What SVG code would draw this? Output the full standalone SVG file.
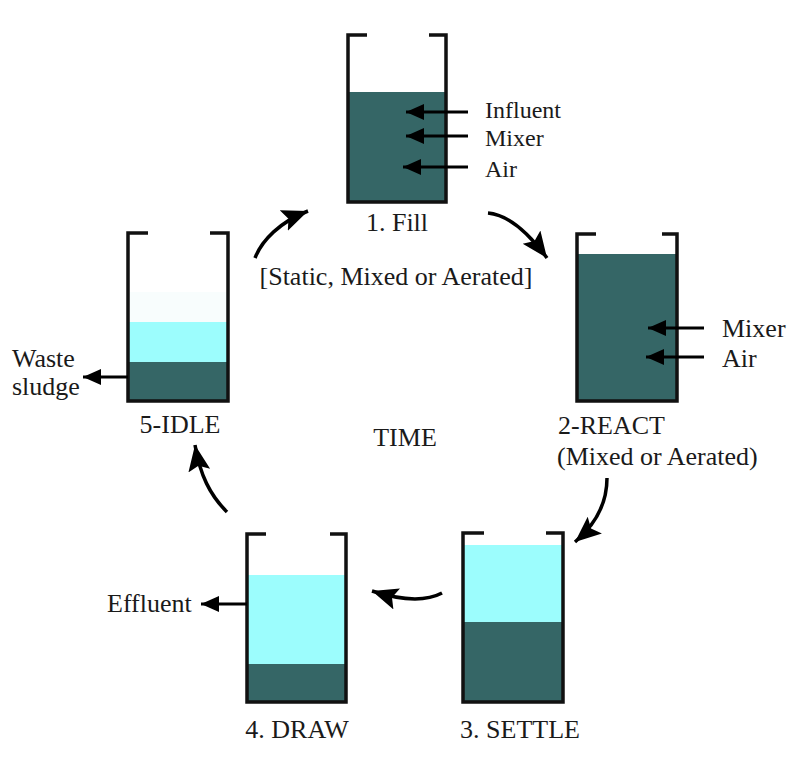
<svg xmlns="http://www.w3.org/2000/svg" width="800" height="762" viewBox="0 0 800 762">
<style>
text{font-family:"Liberation Serif","Times New Roman",serif;font-size:26px;fill:#1a1a1a}
.sm{font-size:24px}
.wall{fill:none;stroke:#111;stroke-width:3.5;stroke-linejoin:miter}
.dark{fill:#356666}
.light{fill:#9cfdfd}
.cur{fill:none;stroke:#000;stroke-width:3.5;marker-end:url(#big)}
.hor{fill:none;stroke:#000;stroke-width:3;marker-end:url(#small)}
</style>
<defs>
<marker id="big" markerUnits="userSpaceOnUse" markerWidth="28" markerHeight="24" refX="26" refY="11" orient="auto" viewBox="0 0 28 24">
<path d="M0,0 L26,11 L0,22 L5,11 z" fill="#000"/>
</marker>
<marker id="small" markerUnits="userSpaceOnUse" markerWidth="20" markerHeight="16" refX="18" refY="8" orient="auto" viewBox="0 0 20 16">
<path d="M0,0 L18,8 L0,16 z" fill="#000"/>
</marker>
</defs>

<g id="fill">
<rect class="dark" x="348" y="92" width="98" height="110"/>
<path class="wall" d="M367,35 H348 V202 H446 V35 H429"/>
<line class="hor" x1="468" y1="112" x2="406" y2="112"/>
<line class="hor" x1="468" y1="136" x2="406" y2="136"/>
<line class="hor" x1="468" y1="167" x2="403" y2="167"/>
<text class="sm" x="485" y="118">Influent</text>
<text class="sm" x="485" y="146">Mixer</text>
<text class="sm" x="485" y="177">Air</text>
<text x="397" y="231" text-anchor="middle">1. Fill</text>
<text x="396" y="285" text-anchor="middle">[Static, Mixed or Aerated]</text>
</g>

<g id="react">
<rect class="dark" x="577" y="254" width="100" height="147"/>
<path class="wall" d="M596,234 H577 V401 H677 V234 H662"/>
<line class="hor" x1="704" y1="328" x2="648" y2="328"/>
<line class="hor" x1="704" y1="357" x2="646" y2="357"/>
<text x="722" y="337">Mixer</text>
<text x="722" y="367">Air</text>
<text x="558" y="434">2-REACT</text>
<text x="557" y="465">(Mixed or Aerated)</text>
</g>

<g id="settle">
<rect class="light" x="463" y="545" width="100" height="77"/>
<rect class="dark" x="463" y="622" width="100" height="80"/>
<path class="wall" d="M484,533 H463 V702 H563 V533 H546"/>
<text x="520" y="738" text-anchor="middle">3. SETTLE</text>
</g>

<g id="draw">
<rect class="light" x="247" y="575" width="99" height="89"/>
<rect class="dark" x="247" y="664" width="99" height="38"/>
<path class="wall" d="M266,534 H247 V702 H346 V534 H330"/>
<line class="hor" x1="247" y1="604" x2="201" y2="604"/>
<text x="107" y="612">Effluent</text>
<text x="297" y="738" text-anchor="middle">4. DRAW</text>
</g>

<g id="idle">
<rect x="128" y="292" width="100" height="30" fill="#f8fdfd"/>
<rect class="light" x="128" y="322" width="100" height="40"/>
<rect class="dark" x="128" y="362" width="100" height="39"/>
<path class="wall" d="M148,233 H128 V401 H228 V233 H210"/>
<line class="hor" x1="128" y1="377" x2="83" y2="377"/>
<text x="12" y="367">Waste</text>
<text x="12" y="395">sludge</text>
<text x="180" y="433" text-anchor="middle">5-IDLE</text>
</g>

<g id="time">
<text x="405" y="446" text-anchor="middle">TIME</text>
</g>

<g id="connectors">
<path class="cur" d="M488,213 C510,215 530,235 547,258"/>
<path class="cur" d="M607,478 C607,505 595,525 575,542"/>
<path class="cur" d="M442,593 C425,602 400,600 372,591"/>
<path class="cur" d="M227,512 C210,495 200,475 195,445"/>
<path class="cur" d="M255,258 C262,240 280,222 308,211"/>
</g>
</svg>
